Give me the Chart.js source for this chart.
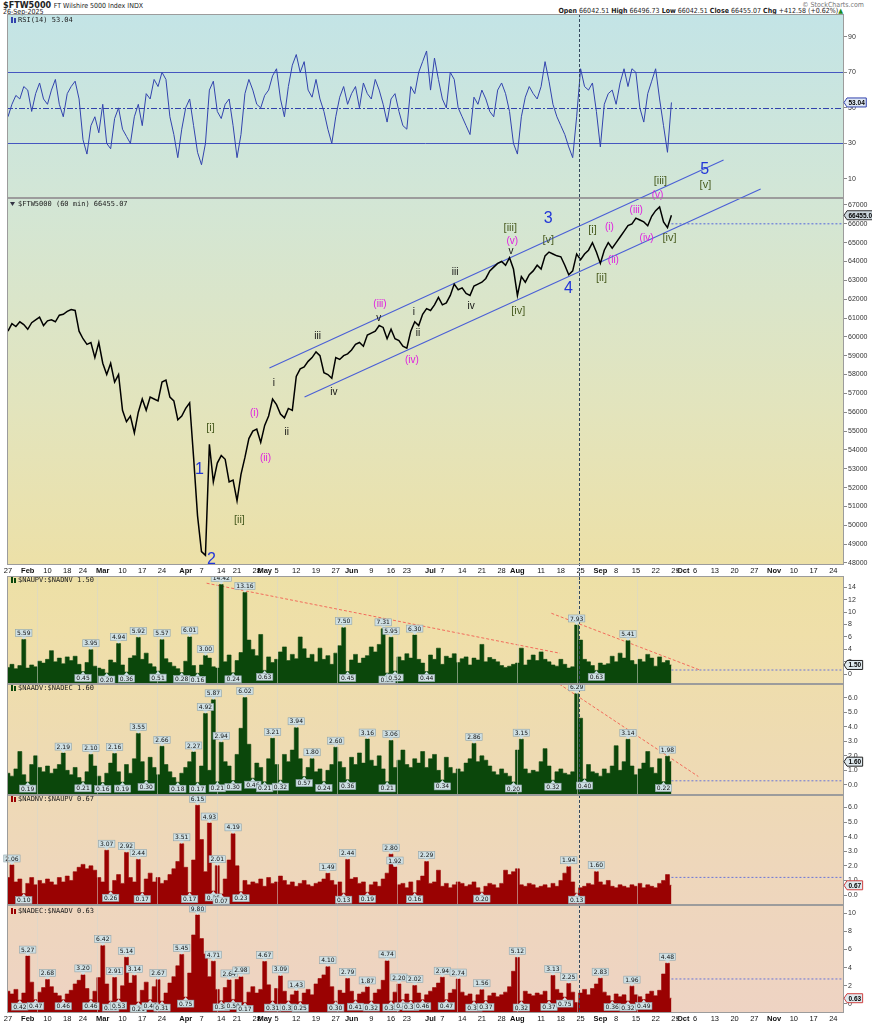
<!DOCTYPE html>
<html>
<head>
<meta charset="utf-8">
<script src="https://cdn.jsdelivr.net/npm/chart.js@4.4.1/dist/chart.umd.min.js"></script>
<style>
body{margin:0;width:872px;height:1024px;background:#fff;position:relative;overflow:hidden;font-family:'Liberation Sans Narrow','DejaVu Sans Condensed','Liberation Sans',Arial,sans-serif}
#bg{position:absolute;left:7px;top:14px;width:837px;height:999px;background:linear-gradient(#c3e4e6 0px,#d2e6d6 180px,#e3e4bc 400px,#ede0a6 560px,#efdfa9 620px,#eedbb2 730px,#eed7bb 850px,#eed3c3 999px)}
#xrow{position:absolute;left:0;top:565px;width:872px;height:11px;background:#fff}
canvas{position:absolute;left:0}
.t{position:absolute;font-size:7px;color:#222;white-space:nowrap}
</style>
</head>
<body>
<div id="bg"></div>
<div id="xrow"></div>
<div class="t" style="left:3px;top:0px;font-size:9px"><b>$FTW5000</b> <span style="font-size:7px">FT Wilshire 5000 Index INDX</span></div>
<div class="t" style="left:3px;top:8px">26-Sep-2025</div>
<div class="t" style="right:8px;top:1px;color:#777">© StockCharts.com</div>
<div class="t" style="right:29px;top:7px"><b>Open</b> 66042.51 <b>High</b> 66496.73 <b>Low</b> 66042.51 <b>Close</b> 66455.07 <b>Chg</b> +412.58 (+0.62%)<span style="color:#1a8a1a">▲</span></div>
<canvas id="rsi" width="872" height="200" style="top:0;z-index:1"></canvas>
<canvas id="price" width="872" height="580" style="top:0;z-index:2"></canvas>
<canvas id="p1" width="872" height="108" style="top:576px;z-index:3"></canvas>
<canvas id="p2" width="872" height="111" style="top:684px;z-index:3"></canvas>
<canvas id="p3" width="872" height="110" style="top:795px;z-index:3"></canvas>
<canvas id="p4" width="872" height="119" style="top:905px;z-index:4"></canvas>
<script>
// trading-day index 0 = 27 Jan 2025, last bar 168 = 26 Sep 2025
const xTickIdx = [0,5,10,15,19,24,29,34,39,45,49,54,58,63,65,68,73,78,83,87,92,97,101,107,110,115,120,125,129,135,140,145,150,154,159,164,169,171,174,179,184,189,194,199,204,209];
const xTickLabels = ['27','Feb','10','18','24','Mar','10','17','24','Apr','7','14','21','28','May','5','12','19','27','Jun','9','16','23','Jul','7','14','21','28','Aug','11','18','25','Sep','8','15','22','29','Oct','6','13','20','27','Nov','10','17','24'];
const monthNames = ['Feb','Mar','Apr','May','Jun','Jul','Aug','Sep','Oct','Nov'];

const priceClose = [
  60300,60700,60550,60800,60650,60400,60750,60900,61050,60600,
  60850,60900,60800,61150,61200,61350,61450,61400,60300,59900,
  59600,59700,58900,59700,58600,58000,58600,57600,58000,56100,
  55500,55800,54900,56000,56700,56100,56800,56700,56600,57600,
  57700,56800,56600,55600,55800,56200,56500,53600,50500,48600,
  48400,54300,52300,53300,53700,53500,52300,52400,51300,52700,
  53600,54600,55000,55100,54400,55300,55800,56700,56400,55900,
  55700,56200,56100,57900,58300,58400,58700,58900,59200,59000,
  58100,58000,57800,58900,58800,59000,59100,59300,59600,59700,
  59500,60100,60200,60300,60600,60500,59900,60400,59900,59800,
  59500,59400,60300,60800,60600,61200,61500,61400,61700,62100,
  61700,61800,62200,62800,62500,62600,62300,62200,62700,62800,
  62900,63100,63500,63700,63900,64000,63800,64200,63600,62200,
  63200,62900,63300,63500,63800,63600,64300,64500,64400,64300,
  64250,63800,63300,63500,64400,64100,64400,64600,65000,64500,
  63900,64600,65000,64700,65000,65300,65600,65900,66000,66300,
  66200,66100,65900,66400,66700,66900,66100,65800,66455.07
];
const rsi14 = [
  45,52,57,55,62,60,48,58,64,55, 52,60,66,52,45,58,62,65,55,32,
  24,40,45,36,52,30,27,44,50,38, 34,30,45,52,40,58,55,66,62,70,
  66,45,35,22,38,50,55,40,25,18, 30,60,65,48,44,52,55,40,22,35,
  58,66,60,52,50,57,60,68,72,55, 45,62,74,80,70,76,60,56,66,55,
  48,38,30,45,56,62,52,58,62,50, 64,58,55,66,60,52,42,55,58,48,
  40,38,62,58,70,76,82,60,78,66, 55,50,70,66,50,45,40,35,56,52,
  60,55,48,45,60,64,58,48,30,24, 45,56,62,58,55,62,76,65,52,45,
  40,35,28,22,45,72,62,60,64,48, 28,52,58,60,52,64,72,62,72,70,
  50,42,58,65,72,55,40,25,53.04
];
const upDnVol = [
  1.1,1.6,0.9,1.4,5.59,1.0,1.5,1.2,2.1,1.8, 2.4,3.8,2.0,2.6,1.7,2.8,2.2,2.9,1.6,0.45,
  1.9,3.95,1.3,1.0,0.8,0.20,2.3,1.9,4.94,1.5, 0.36,2.6,3.0,5.92,2.4,3.4,1.7,1.2,0.51,5.57,
  2.5,1.9,1.3,0.9,0.28,2.1,6.01,1.4,0.16,1.5, 3.00,2.6,1.2,1.0,14.42,2.0,3.1,0.24,2.2,3.5,
  13.16,5.5,4.0,3.0,6.4,0.63,2.8,1.9,2.4,3.6, 4.4,2.2,3.2,2.5,6.0,4.1,2.6,3.2,2.0,4.2,
  2.4,3.0,1.6,3.4,4.6,7.50,0.45,2.3,3.2,1.8, 2.6,3.0,4.4,3.6,4.8,7.31,0.20,5.95,0.52,2.8,
  2.2,3.3,2.6,6.30,2.4,1.8,0.44,3.1,2.4,4.2, 1.6,2.9,2.6,3.3,1.9,2.5,2.8,1.5,2.6,2.3,
  4.8,2.0,2.7,2.4,2.0,1.4,1.1,1.3,1.6,1.8, 4.2,1.5,2.3,3.1,2.2,3.6,2.4,2.0,1.5,1.3,
  2.4,1.6,1.0,1.2,7.93,5.5,2.4,2.0,1.4,0.63, 1.8,1.5,1.7,2.9,2.0,3.4,2.6,5.41,2.2,1.6,
  2.4,2.0,3.2,2.6,1.3,2.8,1.9,2.2,1.50
];
const advDec = [
  0.8,0.6,1.1,2.3,0.7,0.19,1.4,2.0,1.2,0.9, 1.3,0.8,1.1,1.4,2.19,1.0,0.7,1.2,0.5,0.21,
  0.9,2.10,1.3,0.6,0.16,0.8,1.5,2.16,0.9,0.19, 1.4,0.8,1.8,3.55,1.6,0.30,1.9,1.2,0.7,2.66,
  1.4,0.9,0.5,0.18,0.8,1.2,1.6,2.27,0.17,1.3, 4.92,1.0,5.87,0.21,2.94,1.6,1.3,0.30,2.1,3.9,
  6.02,2.8,0.46,1.5,1.2,0.21,1.8,3.21,1.4,0.32, 2.1,1.6,2.4,3.94,1.8,0.57,1.2,1.80,0.9,1.1,
  0.24,1.0,1.4,2.60,1.6,1.2,0.36,1.9,1.4,2.2, 1.5,3.16,1.7,1.3,2.0,1.1,0.21,3.06,1.2,1.7,
  2.4,1.4,1.2,1.8,1.5,2.3,1.2,1.8,2.1,1.0, 0.34,1.9,1.2,0.8,1.1,0.9,1.5,1.8,2.86,1.6,
  2.0,1.7,1.3,0.9,0.7,1.1,0.8,0.6,0.20,2.4, 3.15,1.1,0.8,1.0,0.9,1.6,2.5,1.3,0.32,0.9,
  1.1,0.8,0.7,0.9,6.29,4.6,0.40,1.4,0.9,0.8, 0.6,1.1,0.8,1.3,2.7,1.0,1.6,3.14,1.3,0.7,
  1.1,1.5,2.3,1.2,0.8,1.8,0.22,1.98,1.60
];
const dnUpVol = [
  1.2,2.06,0.9,1.1,0.10,0.8,1.2,0.7,1.0,0.8, 1.1,0.9,0.7,1.2,0.9,1.3,1.0,1.6,1.9,2.1,
  1.8,2.0,1.7,1.2,0.9,3.07,0.26,1.0,1.4,0.8, 2.92,1.2,0.9,2.44,0.17,1.1,1.5,0.9,1.2,0.8,
  1.0,1.4,1.8,2.3,3.51,1.9,0.17,2.4,6.15,3.8, 1.6,4.93,0.28,2.01,0.07,1.1,2.4,4.19,2.0,0.23,
  1.0,0.7,0.9,0.8,1.1,0.6,1.2,0.8,0.9,1.3, 1.0,0.7,0.9,0.6,0.8,1.0,0.7,0.6,0.8,0.9,
  1.1,1.49,1.0,0.7,0.9,0.13,2.44,1.1,1.2,0.8, 0.9,0.19,0.7,0.9,0.6,1.1,1.5,2.80,1.92,0.7,
  0.8,0.5,0.9,0.16,1.0,1.3,2.29,0.8,0.9,1.7, 0.6,0.8,0.5,0.7,0.9,0.8,0.6,0.7,0.9,0.5,
  0.20,0.6,0.8,0.7,0.5,0.8,1.7,1.4,1.6,1.8, 0.7,0.6,0.8,0.7,0.5,0.6,0.7,0.5,0.8,0.6,
  1.0,1.5,1.94,0.9,0.13,0.5,0.6,0.8,0.7,1.60, 0.9,0.7,1.0,0.6,0.5,0.7,0.6,0.5,0.7,0.6,
  0.8,0.5,0.7,0.6,0.5,0.8,1.0,1.4,0.67
];
const decAdv = [
  1.4,1.1,1.6,0.42,1.2,5.27,2.4,0.47,1.3,1.8, 2.68,1.9,1.2,0.9,0.46,1.1,1.5,2.2,2.6,3.20,
  1.7,0.46,1.4,2.9,6.42,2.2,0.31,2.91,0.53,2.0, 5.14,2.3,3.14,0.21,1.5,2.4,0.46,1.9,2.67,0.31,
  1.2,2.3,3.0,4.2,5.45,0.75,3.4,7.6,9.80,7.2, 5.5,3.0,4.71,1.6,0.34,1.8,2.64,0.50,2.7,2.98,
  0.17,1.3,1.9,1.2,1.6,4.67,2.1,0.31,1.7,3.09, 1.4,0.32,1.0,1.43,0.25,1.2,1.6,1.0,2.2,2.8,
  3.2,4.10,1.9,0.30,1.5,1.2,2.79,1.4,0.41,1.1, 1.3,1.87,0.32,1.2,1.6,2.6,4.74,0.32,1.3,2.20,
  0.46,1.1,0.37,2.02,1.2,0.46,1.0,1.4,1.8,2.3, 2.94,0.47,1.2,1.6,2.74,1.3,0.9,1.1,0.31,1.0,
  1.56,0.37,0.9,1.2,0.8,1.0,1.3,1.9,3.6,5.12, 0.32,1.4,1.1,0.9,1.2,1.0,1.4,0.37,3.13,1.6,
  1.2,0.75,2.25,1.3,0.15,1.2,1.6,1.0,1.7,2.2, 2.83,1.3,0.9,0.36,1.1,0.8,1.0,0.32,1.96,1.0,
  0.8,0.49,1.1,1.4,0.9,1.5,3.3,4.48,0.63
];

// bars that carry a value tag (peaks tagged above, troughs below)
const peaks1 = [4,21,28,33,39,46,50,54,60,85,95,97,103,144,157];
const troughs1 = [19,25,30,38,44,48,57,65,86,96,98,106,149];
const peaks2 = [14,21,27,33,39,47,50,52,54,60,67,73,77,83,91,97,118,130,144,157,167];
const troughs2 = [5,19,24,29,35,43,48,53,57,62,65,69,75,80,86,96,110,128,138,146,166];
const peaks3 = [1,25,30,33,44,48,51,53,57,81,86,97,98,106,142,149];
const troughs3 = [4,26,34,46,52,54,59,85,91,103,120,144];
const peaks4 = [5,10,19,24,27,30,32,38,44,48,52,56,59,65,69,73,81,86,91,96,99,103,110,114,120,129,138,142,150,158,167];
const troughs4 = [3,7,14,21,26,28,33,36,39,45,54,57,60,67,71,74,83,88,92,97,100,102,105,111,118,121,130,137,141,153,157,161];

const rsiTicks = [10,30,50,70,90];
const priceTicks = [48000,48500,49000,49500,50000,50500,51000,51500,52000,52500,53000,53500,54000,54500,55000,55500,56000,56500,57000,57500,58000,58500,59000,59500,60000,60500,61000,61500,62000,62500,63000,63500,64000,64500,65000,65500,66000,66500,67000];
const ticks1 = [0,2,4,6,8,10,12,14];
const ticksHalf = [0,0.5,1,1.5,2,2.5,3,3.5,4,4.5,5,5.5,6,6.5];
const ticks4 = [0,1,2,3,4,5,6,7,8,9,10];

// Elliott wave annotations: [day index, price, text, style]
const waveLabels = [
  [48.5,52930,'1','b'],[51.5,48160,'2','b'],[136.8,66260,'3','b'],[141.9,62540,'4','b'],[176.4,68860,'5','b'],
  [51.3,55160,'[i]','g'],[58.6,50280,'[ii]','g'],[127.2,65780,'[iii]','g'],[129.2,61370,'[iv]','g'],[136.8,65140,'[v]','g'],
  [148,65670,'[i]','g'],[150.3,63120,'[ii]','g'],[165.2,68270,'[iii]','g'],[167.5,65250,'[iv]','g'],[176.6,68060,'[v]','g'],
  [62.4,55960,'(i)','m'],[65.2,53570,'(ii)','m'],[94.2,61740,'(iii)','m'],[102.3,58770,'(iv)','m'],[127.7,65090,'(v)','m'],
  [152.3,65830,'(i)','m'],[153.3,64080,'(ii)','m'],[159.1,66730,'(iii)','m'],[161.7,65250,'(iv)','m'],[164.5,67530,'(v)','m'],
  [67.3,57550,'i','k'],[70.6,54950,'ii','k'],[78.4,60050,'iii','k'],[82.5,57070,'iv','k'],[93.9,61000,'v','k'],
  [102.8,61320,'i','k'],[103.8,60210,'ii','k'],[113.2,63440,'iii','k'],[117.3,61640,'iv','k'],[127.4,64560,'v','k']
];
const channelUpper = [[66.2,58350],[181.2,69390]];
const channelLower = [[75.1,56810],[190.6,67850]];
const trend1a = [[50.3,14.64],[139.8,3.38]];
const trend1b = [[137.6,9.81],[175.2,0.69]];
const trend2 = [[139.6,6.96],[174.8,0.58]];
const gridIdx = [7.3,22.5,37.7,52.9,68.1,83.2,98.4,113.7,128.9,144.2,159.4];

const X_MIN = -0.25, X_MAX = 211.7, MARK = 144.6, LAST = 168;
const waveStyle = {b:['#2236d8',16], g:['#4a5d22',11], m:['#e01ee0',10], k:['#111',10]};

Chart.defaults.font.family = "'Liberation Sans', Arial, sans-serif";
Chart.defaults.animation = false;

const pts = arr => arr.map((v, i) => ({x: i, y: v}));
const seg = pair => pair.map(p => ({x: p[0], y: p[1]}));
const plain = (data, color, width, dash) => ({data, borderColor: color, borderWidth: width, borderDash: dash || [], pointRadius: 0, fill: false, clip: false, tension: 0});
const flat = (v, color) => plain([{x: LAST, y: v}, {x: X_MAX, y: v}], color, 1, [2, 2]);

function xScale(show) {
  return {
    type: 'linear', min: X_MIN, max: X_MAX, display: show,
    grid: {display: false, drawTicks: false}, border: {display: false},
    afterBuildTicks: s => { s.ticks = xTickIdx.map(v => ({value: v})); },
    afterFit: s => { s.height = show ? (s.chart.canvas.id === 'p4' ? 11 : 15) : 0; s.paddingLeft = 0; s.paddingRight = 0; },
    ticks: {autoSkip: false, maxRotation: 0, minRotation: 0, padding: 1, color: '#111',
      font: c => ({size: 7.5, weight: monthNames.includes(xTickLabels[c.index]) ? 'bold' : 'normal'}),
      callback: (v, i) => xTickLabels[i]}
  };
}

function yScale(min, max, ticks, fmt) {
  return {
    position: 'right', min, max,
    grid: {drawOnChartArea: false, tickLength: 3, color: '#8a8a8a'},
    border: {display: false},
    afterBuildTicks: s => { s.ticks = ticks.map(v => ({value: v})); },
    afterFit: s => { s.width = 28; s.paddingTop = 0; s.paddingBottom = 0; },
    ticks: {padding: 1, color: '#333', font: {size: 7}, callback: fmt}
  };
}

function tag(ctx, x, y, text, up) {
  ctx.font = '6px "DejaVu Sans", sans-serif';
  const w = ctx.measureText(text).width + 3, h = 7;
  const by = up ? y - 3 - h : y + 3;
  ctx.fillStyle = '#cfe0e4'; ctx.strokeStyle = '#8fa4ab'; ctx.lineWidth = 0.6;
  ctx.fillRect(x - w / 2, by, w, h); ctx.strokeRect(x - w / 2, by, w, h);
  ctx.beginPath();
  const e = up ? y - 3 : y + 3;
  ctx.moveTo(x - 2.5, e); ctx.lineTo(x + 2.5, e); ctx.lineTo(x, y); ctx.closePath();
  ctx.fill();
  ctx.fillStyle = '#111'; ctx.textAlign = 'center'; ctx.textBaseline = 'middle';
  ctx.fillText(text, x, by + h / 2 + 0.5);
}

function valueBox(ctx, a, py, text, edge, fill) {
  ctx.font = 'bold 6.5px "Liberation Sans", Arial';
  const w = ctx.measureText(text).width + 3, h = 9, x0 = a.right + 3;
  ctx.fillStyle = fill; ctx.strokeStyle = edge; ctx.lineWidth = 1; ctx.setLineDash([]);
  ctx.beginPath();
  ctx.moveTo(a.right, py); ctx.lineTo(x0, py - h / 2); ctx.lineTo(x0 + w, py - h / 2);
  ctx.lineTo(x0 + w, py + h / 2); ctx.lineTo(x0, py + h / 2); ctx.closePath();
  ctx.fill(); ctx.stroke();
  ctx.fillStyle = '#000'; ctx.textAlign = 'left'; ctx.textBaseline = 'middle';
  ctx.fillText(text, x0 + 1.5, py + 0.5);
}

function deco(o) {
  return {
    id: 'deco',
    beforeDatasetsDraw(chart) {
      const {ctx, chartArea: a, scales: {y}} = chart;
      ctx.save();
      (o.hlines || []).forEach(([v, color, dash]) => {
        const py = Math.round(y.getPixelForValue(v)) + 0.5;
        ctx.strokeStyle = color; ctx.lineWidth = 1; ctx.setLineDash(dash);
        ctx.beginPath(); ctx.moveTo(a.left, py); ctx.lineTo(a.right, py); ctx.stroke();
      });
      ctx.restore();
    },
    afterDatasetsDraw(chart) {
      const {ctx, chartArea: a, scales: {x, y}} = chart;
      ctx.save();
      if (o.grid) {
        ctx.strokeStyle = 'rgba(215,215,205,0.55)'; ctx.lineWidth = 1;
        gridIdx.forEach(g => {
          const px = Math.round(x.getPixelForValue(g)) + 0.5;
          ctx.beginPath(); ctx.moveTo(px, a.top); ctx.lineTo(px, a.bottom); ctx.stroke();
        });
      }
      const mx = Math.round(x.getPixelForValue(MARK)) + 0.5;
      ctx.strokeStyle = '#34495e'; ctx.lineWidth = 1; ctx.setLineDash([3, 2]);
      ctx.beginPath(); ctx.moveTo(mx, a.top); ctx.lineTo(mx, o.markBottom || a.bottom); ctx.stroke();
      ctx.setLineDash([]);
      if (o.data) {
        o.peaks.forEach(i => tag(ctx, x.getPixelForValue(i), y.getPixelForValue(o.data[i]), o.data[i].toFixed(2), true));
        o.troughs.forEach(i => tag(ctx, x.getPixelForValue(i), y.getPixelForValue(o.data[i]), o.data[i].toFixed(2), false));
      }
      if (o.waves) {
        ctx.textAlign = 'center'; ctx.textBaseline = 'middle';
        o.waves.forEach(([i, v, t, s]) => {
          ctx.fillStyle = waveStyle[s][0];
          ctx.font = waveStyle[s][1] + 'px "Liberation Sans", Arial';
          ctx.fillText(t, x.getPixelForValue(i), y.getPixelForValue(v));
        });
      }
      ctx.strokeStyle = '#9c9c9c'; ctx.lineWidth = 1;
      ctx.strokeRect(a.left + 0.5, a.top + 0.5, a.width - 1, a.height - 1);
      // panel legend
      ctx.fillStyle = o.icon;
      if (o.tri) {
        ctx.beginPath(); ctx.moveTo(a.left + 3, a.top + o.ly - 2); ctx.lineTo(a.left + 8, a.top + o.ly - 2); ctx.lineTo(a.left + 5.5, a.top + o.ly + 2); ctx.fill();
      } else {
        ctx.fillRect(a.left + 4, a.top + o.ly - 3, 2, 6); ctx.fillRect(a.left + 7, a.top + o.ly - 2, 2, 5);
      }
      ctx.fillStyle = '#222'; ctx.font = '7px "DejaVu Sans Mono", monospace';
      ctx.textAlign = 'left'; ctx.textBaseline = 'middle';
      ctx.fillText(o.legend, a.left + 11, a.top + o.ly);
      valueBox(ctx, a, y.getPixelForValue(o.last), o.lastText, o.edge, o.fill);
      ctx.restore();
    }
  };
}

function makeChart(id, datasets, yOpt, pad, showX, decoOpt) {
  return new Chart(document.getElementById(id), {
    type: 'line',
    data: {datasets},
    options: {
      responsive: false,
      layout: {padding: {left: 7, right: 0, top: pad[0], bottom: pad[1]}},
      plugins: {legend: {display: false}, tooltip: {enabled: false}},
      scales: {x: xScale(showX), y: yOpt}
    },
    plugins: [deco(decoOpt)]
  });
}

makeChart('rsi',
  [plain(pts(rsi14), '#3243ad', 1)],
  yScale(-0.7, 102.8, rsiTicks, v => v), [14, 2], false,
  {hlines: [[70, '#4556c0', []], [30, '#4556c0', []], [50, '#3243ad', [6, 2, 2, 2]]],
   icon: '#3243ad', ly: 6, legend: 'RSI(14) 53.04', last: rsi14[LAST], lastText: '53.04', edge: '#3243ad', fill: '#dfe8f4'});

makeChart('price',
  [plain(pts(priceClose), '#000', 1.5),
   plain(seg(channelUpper), '#4a5fd6', 1.1), plain(seg(channelLower), '#4a5fd6', 1.1),
   flat(66000, '#5566dd')],
  yScale(47890, 67370, priceTicks, v => v), [198, 0], true,
  {waves: waveLabels, icon: '#334', tri: true, ly: 6, legend: '$FTW5000 (60 min) 66455.07', markBottom: 580,
   last: priceClose[LAST], lastText: '66455.07', edge: '#333', fill: '#cbd5dc'});

function breadth(id, values, color, min, max, ticks, fmt, extra, peaks, troughs, legend, edge, showX) {
  const main = {data: pts(values), borderColor: color, backgroundColor: color, borderWidth: 0.6, pointRadius: 0, fill: 'start', stepped: 'middle'};
  return makeChart(id, [main].concat(extra), yScale(min, max, ticks, fmt), [0, 0], showX,
    {grid: true, data: values, peaks, troughs, icon: color, ly: id === 'p4' ? 6 : 4, legend,
     last: values[LAST], lastText: values[LAST].toFixed(2), edge, fill: '#dfe9ee'});
}

breadth('p1', upDnVol, '#0b470b', -1.56, 15.8, ticks1, v => v,
  [plain(seg(trend1a), '#f26b5b', 1, [3, 2]), plain(seg(trend1b), '#f26b5b', 1, [3, 2]), flat(0.69, '#6a76d8')],
  peaks1, troughs1, '$NAUPV:$NADNV 1.50', '#222', false);
breadth('p2', advDec, '#0b470b', -0.7, 6.96, ticksHalf, v => v.toFixed(1),
  [plain(seg(trend2), '#f26b5b', 1, [3, 2]), flat(0.28, '#6a76d8')],
  peaks2, troughs2, '$NAADV:$NADEC 1.60', '#222', false);
breadth('p3', dnUpVol, '#9a0202', -0.68, 6.85, ticksHalf, v => v.toFixed(1),
  [flat(1.21, '#6a76d8')],
  peaks3, troughs3, '$NADNV:$NAUPV 0.67', '#d04040', false);
breadth('p4', decAdv, '#9a0202', -1.0, 10.9, ticks4, v => v,
  [flat(2.75, '#6a76d8')],
  peaks4, troughs4, '$NADEC:$NAADV 0.63', '#d04040', true);
</script>
</body>
</html>
